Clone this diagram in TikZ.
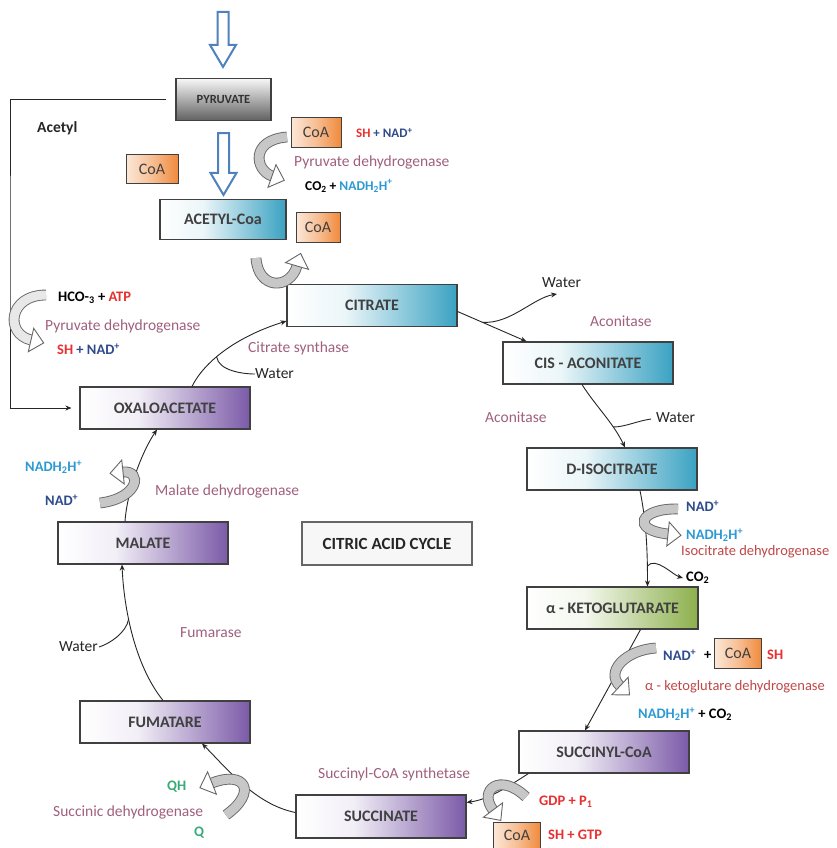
\documentclass[tikz,border=0pt]{standalone}
\usepackage{fontspec}
\setmainfont{Carlito}
\usetikzlibrary{arrows.meta,calc}
\definecolor{tealc}{HTML}{3AA2C2}
\definecolor{purpc}{HTML}{7B5AA8}
\definecolor{greenc}{HTML}{8CB04C}
\definecolor{orangec}{HTML}{F08A3C}
\definecolor{enzc}{HTML}{A0607E}
\definecolor{enzr}{HTML}{C04848}
\definecolor{redc}{HTML}{E83030}
\definecolor{navyc}{HTML}{2E4C8C}
\definecolor{bluec}{HTML}{2E9AD4}
\definecolor{greentx}{HTML}{3AAA78}
\definecolor{bordc}{HTML}{404040}
\definecolor{blarrow}{HTML}{4F81BD}
\pgfdeclarehorizontalshading{tealsh}{100bp}{color(0bp)=(white); color(25bp)=(white); color(42bp)=(white!90!tealc); color(75bp)=(tealc); color(100bp)=(tealc)}
\pgfdeclarehorizontalshading{purpsh}{100bp}{color(0bp)=(white); color(25bp)=(white); color(42bp)=(white!90!purpc); color(75bp)=(purpc); color(100bp)=(purpc)}
\pgfdeclarehorizontalshading{greensh}{100bp}{color(0bp)=(white); color(25bp)=(white); color(42bp)=(white!90!greenc); color(75bp)=(greenc); color(100bp)=(greenc)}
\pgfdeclarehorizontalshading{coash}{100bp}{color(0bp)=(orangec!20); color(25bp)=(orangec!20); color(50bp)=(orangec!55); color(75bp)=(orangec); color(100bp)=(orangec)}
\tikzset{
  box/.style={draw=bordc, line width=1.1pt, minimum width=170pt, minimum height=42pt, inner sep=0pt,
    font=\fontsize{16}{18}\selectfont\bfseries, text=black!75},
  tealbox/.style={box, shading=tealsh},
  purpbox/.style={box, shading=purpsh},
  greenbox/.style={box, shading=greensh},
  coabox/.style={draw=bordc, line width=1pt, minimum width=48pt, minimum height=29pt, inner sep=0pt,
    shading=coash, font=\fontsize{16}{18}\selectfont, text=black!75},
  lab/.style={inner sep=0pt, anchor=west, font=\fontsize{15.5}{18}\selectfont},
  blab/.style={inner sep=0pt, anchor=west, font=\fontsize{14.5}{17}\selectfont\bfseries},
  conn/.style={draw=black!85, line width=0.9pt},
  arr/.style={conn, -{Stealth[length=6pt,width=5pt]}},
  bigarr/.style={draw=blarrow, line width=2pt, fill=white, line join=miter},
  curvarr/.style={draw=black!60, line width=0.9pt, double=black!22, double distance=9pt},
  lightarr/.style={curvarr, double=black!9},
  headst/.style={fill=white, draw=black!60, line width=0.9pt, line join=miter},
}
\newcommand\hollowdown[2]{%
  \draw[bigarr] let \p1=#1, \p2=#2 in
    (\x1-5.5pt,\y1) -- (\x1+5.5pt,\y1) -- (\x1+5.5pt,\y2+22pt) -- (\x1+13pt,\y2+22pt)
    -- (\x1,\y2) -- (\x1-13pt,\y2+22pt) -- (\x1-5.5pt,\y2+22pt) -- cycle;}
% gray curved arrow: [style] start, control1, control2, end
\newcommand\grayarrow[5][curvarr]{%
  \draw[#1] #2 .. controls #3 and #4 .. #5;
  \filldraw[headst] ($#5!12pt!90:#4$) -- ($#5!13pt!180:#4$) -- ($#5!12pt!-90:#4$) -- cycle;}
\begin{document}
\begin{tikzpicture}[x=1pt,y=-1pt]
\useasboundingbox (0,0) rectangle (836,848);
\fill[white] (0,0) rectangle (836,848);

% main boxes
\node[box, minimum width=95pt, minimum height=42pt, top color=black!3, bottom color=black!62,
  font=\fontsize{12.5}{14}\selectfont\bfseries, text=black!80] (pyr) at (223.5,99.5) {PYRUVATE};
\node[tealbox, minimum width=126pt, minimum height=40pt] (acetyl) at (223,219.5) {ACETYL-Coa};
\node[tealbox] (citrate) at (372,305.5) {CITRATE};
\node[tealbox] (cis) at (588,363) {CIS - ACONITATE};
\node[tealbox] (isoc) at (612,469) {D-ISOCITRATE};
\node[greenbox, minimum width=171pt] (akg) at (612.5,608) {α - KETOGLUTARATE};
\node[purpbox] (succoa) at (604,752) {SUCCINYL-CoA};
\node[purpbox, minimum height=43pt] (succ) at (381,816.5) {SUCCINATE};
\node[purpbox] (fum) at (165,722) {FUMATARE};
\node[purpbox] (mal) at (143,543) {MALATE};
\node[purpbox] (oxa) at (165,408) {OXALOACETATE};
\node[box, fill=black!3, draw=black!60, minimum height=43pt, text=black!85,
  font=\fontsize{17}{19}\selectfont\bfseries] (cac) at (387,543.5) {CITRIC ACID CYCLE};

% CoA boxes
\node[coabox, minimum width=50pt] (coa1) at (316,132.5) {CoA};
\node[coabox, minimum width=52pt] (coa2) at (152,169) {CoA};
\node[coabox, minimum width=44pt, minimum height=30pt] (coa3) at (318,227.5) {CoA};
\node[coabox, minimum width=47pt, minimum height=30pt] (coa4) at (738,653) {CoA};
\node[coabox, minimum width=47pt, minimum height=26pt] (coa5) at (517,835) {CoA};

% big hollow arrows
\coordinate (topstart) at (223,12);
\hollowdown{(topstart)}{($(pyr.north)+(0,-11)$)}
\hollowdown{($(pyr.south)+(0,12)$)}{($(acetyl.north)+(0,-4)$)}

% acetyl line
\coordinate (acl) at (10,250);
\draw[arr, shorten <=9pt, shorten >=8pt] (pyr.west) -| (acl) |- (oxa.west);
\node[blab, font=\fontsize{15.5}{18}\selectfont\bfseries, text=black!85] (acetyltx) at (37,128) {Acetyl};

% top right reaction texts
\node[blab, font=\fontsize{13}{15}\selectfont\bfseries] (t1) at (356,133) {\textcolor{redc}{SH} \textcolor{navyc}{+ NAD\textsuperscript{+}}};
\node[lab, text=enzc] (t2) at (294,162) {Pyruvate dehydrogenase};
\node[blab, font=\fontsize{13.5}{15}\selectfont\bfseries] (t3) at (305,186) {CO\textsubscript{2} + \textcolor{bluec}{NADH\textsubscript{2}H\textsuperscript{+}}};
\grayarrow{(287,137)}{(250,140)}{(255,170)}{(272,176)}

% U arrow under acetyl-CoA
\grayarrow{(256,258)}{(258,290)}{(290,290)}{(297,266)}

% oxaloacetate -> citrate
\draw[arr] ($(oxa.north)+(27,0)$) .. controls +(14,-28) and +(-45,14) .. ($(citrate.south west)+(0,-6)$)
  coordinate[pos=0.38] (w1);
\node[lab, text=black!85] (wat1) at (255,374) {Water};
\draw[conn] (w1) .. controls +(2,14) and +(-12,0) .. (wat1.west);
\node[lab, text=enzc] (cs) at (248,348) {Citrate synthase};

% left gray arrow
\node[blab] (hco) at (58,298) {HCO-\textsubscript{3} + \textcolor{redc}{ATP}};
\node[lab, text=enzc] (pd2) at (45,326) {Pyruvate dehydrogenase};
\node[blab] (shn) at (57,349) {\textcolor{redc}{SH} \textcolor{navyc}{+ NAD\textsuperscript{+}}};
\grayarrow[lightarr]{(46,295)}{(8,295)}{(5,334)}{(31,340)}

% citrate -> cis
\draw[arr] ($(citrate.east)+(0,6)$) -- ($(cis.north west)+(24,0)$) coordinate[pos=0.36] (w2);
\node[lab, text=black!85] (wat2) at (542,283) {Water};
\coordinate (wt2) at (557,294);
\draw[arr] (w2) .. controls +(28,2) and +(-24,4) .. (wt2);
\node[lab, text=enzc] (ac1) at (590,321) {Aconitase};

% cis -> isocitrate
\draw[arr] ($(cis.south)+(-6,0)$) .. controls +(14,22) and +(-12,-25) .. ($(isoc.north)+(13,0)$)
  coordinate[pos=0.7] (w3);
\node[lab, text=black!85] (wat3) at (656,418) {Water};
\draw[conn] (w3) .. controls +(12,0) and +(-14,2) .. ($(wat3.west)+(-5,1)$);
\node[lab, text=enzc] (ac2) at (485,417) {Aconitase};

% isocitrate -> alpha-KG
\draw[arr] ($(isoc.south)+(28,0)$) .. controls +(6,30) and +(0,-40) .. ($(akg.north)+(35,0)$)
  coordinate[pos=0.82] (w4);
\node[blab] (nad1) at (686,506) {\textcolor{navyc}{NAD\textsuperscript{+}}};
\node[blab] (nadh1) at (686,535) {\textcolor{bluec}{NADH\textsubscript{2}H\textsuperscript{+}}};
\node[lab, text=enzr, font=\fontsize{14.5}{17}\selectfont] (idh) at (681,552) {Isocitrate dehydrogenase};
\node[blab] (co2a) at (686,578) {CO\textsubscript{2}};
\draw[arr] (w4) .. controls +(8,-10) and +(-10,-3) .. ($(co2a.west)+(-3,0)$);
\grayarrow{(678,509)}{(640,508)}{(630,530)}{(668,534)}

% alpha-KG -> succinyl-CoA
\draw[arr] ($(akg.south)+(28,0)$) -- ($(succoa.north)+(-19,0)$);
\node[blab] (nad2) at (663,655) {\textcolor{navyc}{NAD\textsuperscript{+}}};
\node[blab] (plus2) at (704,655) {+};
\node[blab] (sh2) at (767,655) {\textcolor{redc}{SH}};
\node[lab, text=enzr, font=\fontsize{14.5}{17}\selectfont] (akgdh) at (645,687) {α - ketoglutare dehydrogenase};
\node[blab] (nadh2) at (638,714) {\textcolor{bluec}{NADH\textsubscript{2}H\textsuperscript{+}} + CO\textsubscript{2}};
\grayarrow{(656,648)}{(625,650)}{(605,672)}{(620,686)}

% succinyl-CoA -> succinate
\draw[arr] ($(succoa.south west)+(10,0)$) .. controls +(-22,14) and +(22,-3) .. ($(succ.north east)+(0,8)$);
\node[lab, text=enzc] (scs) at (318,774) {Succinyl-CoA synthetase};
\node[blab] (gdp) at (539,802) {\textcolor{redc}{GDP + P\textsubscript{1}}};
\node[blab] (gtp) at (548,835) {\textcolor{redc}{SH + GTP}};
\grayarrow{(526,797)}{(500,772)}{(478,790)}{(493,810)}

% succinate -> fumarate
\draw[arr] ($(succ.west)+(0,-4)$) .. controls +(-40,-8) and +(25,25) .. ($(fum.south)+(37,0)$);
\node[blab] (qh) at (167,787) {\textcolor{greentx}{QH}};
\node[lab, text=enzc] (sdh) at (53,812) {Succinic dehydrogenase};
\node[blab] (q) at (194,833) {\textcolor{greentx}{Q}};
\grayarrow{(226,815)}{(258,792)}{(245,770)}{(212,783)}

% fumarate -> malate
\draw[arr] ($(fum.north)+(-2,0)$) .. controls +(-28,-35) and +(2,45) .. ($(mal.south)+(-21,0)$)
  coordinate[pos=0.62] (w8);
\node[lab, text=black!85, anchor=east] (wat8) at (98,647) {Water};
\draw[conn] (w8) .. controls +(-2,14) and +(10,-3) .. ($(wat8.east)+(1,0)$);
\node[lab, text=enzc] (fumase) at (180,633) {Fumarase};

% malate -> oxaloacetate
\draw[arr] ($(mal.north)+(-18,0)$) .. controls +(2,-30) and +(-15,22) .. ($(oxa.south)+(-8,0)$);
\node[blab] (nadh3) at (25,467) {\textcolor{bluec}{NADH\textsubscript{2}H\textsuperscript{+}}};
\node[blab] (nad3) at (45,500) {\textcolor{navyc}{NAD\textsuperscript{+}}};
\node[lab, text=enzc] (mdh) at (155,491) {Malate dehydrogenase};
\grayarrow{(100,503)}{(140,498)}{(142,470)}{(123,472)}

\end{tikzpicture}
\end{document}
